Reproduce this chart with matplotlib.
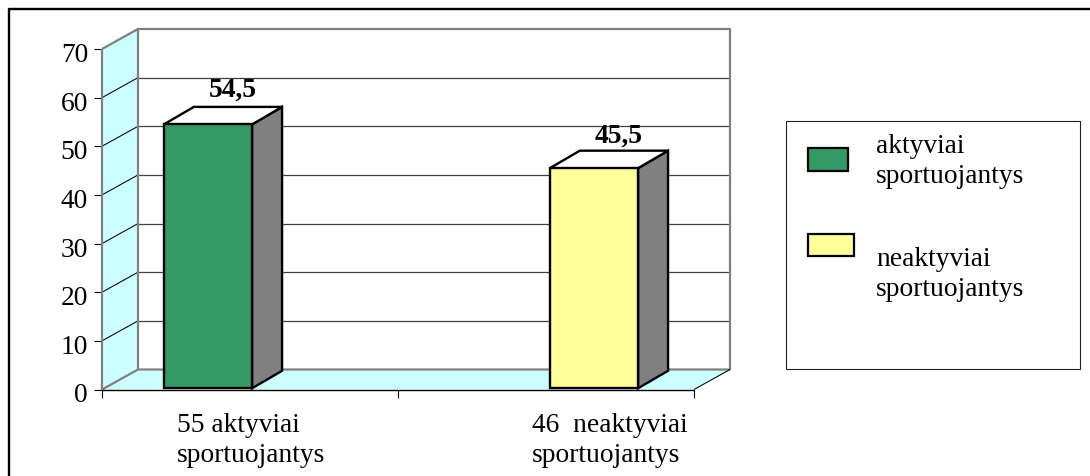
import matplotlib
matplotlib.use("Agg")
import matplotlib.pyplot as plt
from matplotlib.patches import Polygon, Rectangle
from matplotlib.lines import Line2D
from matplotlib.transforms import ScaledTranslation

W, H = 1090, 477

# Chart data
series_names = ["aktyviai\nsportuojantys", "neaktyviai\nsportuojantys"]
category_labels = ["55 aktyviai\nsportuojantys", "46  neaktyviai\nsportuojantys"]
values = [54.5, 45.5]
value_labels = ["54,5", "45,5"]
bar_lefts = [0.209, 1.513]
bar_width = 0.298
bar_colors = ["#339966", "#FFFF99"]
y_ticks = [0, 10, 20, 30, 40, 50, 60, 70]

plt.rcParams["font.family"] = ["Liberation Serif", "DejaVu Serif"]
FONT = 19.8
LINE_GAP = 1.26

fig = plt.figure(figsize=(W / 100, H / 100), dpi=100, facecolor="white")

def px_axes(x0, y0, x1, y1):
    return [x0 / W, 1 - y1 / H, (x1 - x0) / W, (y1 - y0) / H]

# Axes covers the front plane of the 3-D box
ax = fig.add_axes(px_axes(102, 50, 694, 390.5))
ax.set_xlim(0, 2)
ax.set_ylim(0, 70)
ax.patch.set_visible(False)
for s in ax.spines.values():
    s.set_visible(False)

# Depth of the box and of the bars, in data units
x_per_px = 2 / 592
y_per_px = 70 / 340.5
depth_x, depth_y = 36 * x_per_px, 20 * y_per_px
bar_dx, bar_dy = 30 * x_per_px, 17.5 * y_per_px

GRAY = "#808080"
WALL = "#CCFFFF"

def poly(pts, fc, ec, lw, z):
    ax.add_patch(Polygon(pts, closed=True, facecolor=fc, edgecolor=ec, linewidth=lw,
                         zorder=z, clip_on=False, joinstyle="miter"))

def line(xs, ys, c, lw, z):
    ax.add_line(Line2D(xs, ys, color=c, linewidth=lw, zorder=z, clip_on=False,
                       solid_capstyle="butt"))

# Side wall and floor
poly([(0, 0), (depth_x, depth_y), (depth_x, 70 + depth_y), (0, 70)], WALL, "none", 0, 1)
poly([(0, 0), (2, 0), (2 + depth_x, depth_y), (depth_x, depth_y)], WALL, "none", 0, 1)

# Gridlines run across the side wall and the back wall
for v in y_ticks[1:-1]:
    line([0, depth_x], [v, v + depth_y], "black", 0.75, 2)
    line([depth_x, 2 + depth_x], [v + depth_y, v + depth_y], "#404040", 0.9, 2)

# Box edges
line([0, 0], [0, 70], GRAY, 1.6, 3)
line([0, depth_x, 2 + depth_x, 2 + depth_x, depth_x, 0],
     [70, 70 + depth_y, 70 + depth_y, depth_y, depth_y, 0], GRAY, 1.6, 3)
line([depth_x, depth_x], [depth_y, 70 + depth_y], GRAY, 1.6, 3)
line([2, 2 + depth_x], [0, depth_y], "black", 0.75, 3)
line([0, 2], [0, 0], "black", 1.0, 4)

# Bars with their top and side faces; each bar stops just above the axis line
bar_base = 0.25
label_lifts = [11, 9]
for left, val, col, lab, lift in zip(bar_lefts, values, bar_colors, value_labels, label_lifts):
    right = left + bar_width
    poly([(right, bar_base), (right + bar_dx, bar_base + bar_dy),
          (right + bar_dx, val + bar_dy), (right, val)], GRAY, "black", 1.7, 5)
    poly([(left, val), (left + bar_dx, val + bar_dy), (right + bar_dx, val + bar_dy), (right, val)],
         "white", "black", 1.7, 5)
    ax.bar(left, val - bar_base, bottom=bar_base, width=bar_width, align="edge", color=col,
           edgecolor="black", linewidth=1.7, zorder=6, clip_on=False)
    ax.annotate(lab, xy=(right + bar_dx, val + bar_dy), xytext=(-25, lift), textcoords="offset pixels",
                ha="right", va="baseline", fontsize=FONT, fontweight="bold", color="black",
                zorder=7, annotation_clip=False)

# Axis ticks and labels
ax.set_yticks(y_ticks)
ax.set_xticks([0, 1, 2])
ax.set_xticklabels([])
ax.tick_params(axis="y", length=6, width=0.8, color="black", labelsize=FONT, pad=4)
ax.tick_params(axis="x", length=6, width=0.8, color="black")
label_shift = ScaledTranslation(0, -2.5 / 100, fig.dpi_scale_trans)
for tick_label in ax.get_yticklabels():
    tick_label.set_transform(tick_label.get_transform() + label_shift)
for x_pos, lab in zip([0.253, 1.452], category_labels):
    ax.annotate(lab, xy=(x_pos, 0), xytext=(0, -23), textcoords="offset pixels",
                ha="left", va="top", fontsize=FONT, linespacing=LINE_GAP, annotation_clip=False)

# Outer chart frame: top and left edges are the visible ones
fig.add_artist(Line2D([8.5 / W, 8.5 / W, 1], [0, 1 - 9.5 / H, 1 - 9.5 / H],
                      color="black", linewidth=1.7, transform=fig.transFigure))

# Legend box, drawn by hand to keep the swatches unevenly placed
def fig_rect(x0, y0, x1, y1, fc, ec, lw):
    fig.add_artist(Rectangle((x0 / W, 1 - y1 / H), (x1 - x0) / W, (y1 - y0) / H,
                             facecolor=fc, edgecolor=ec, linewidth=lw,
                             transform=fig.transFigure))

fig_rect(785.5, 122, 1079.5, 370, "white", "#202020", 0.8)
fig_rect(808, 148.5, 848, 171.5, bar_colors[0], "black", 1.6)
fig_rect(808, 234.5, 854, 257, bar_colors[1], "black", 1.6)
for y_px, lab in zip([134, 247], series_names):
    fig.text(876 / W, 1 - y_px / H, lab, ha="left", va="top", fontsize=FONT, linespacing=LINE_GAP)

fig.savefig("out.png", dpi=100)
